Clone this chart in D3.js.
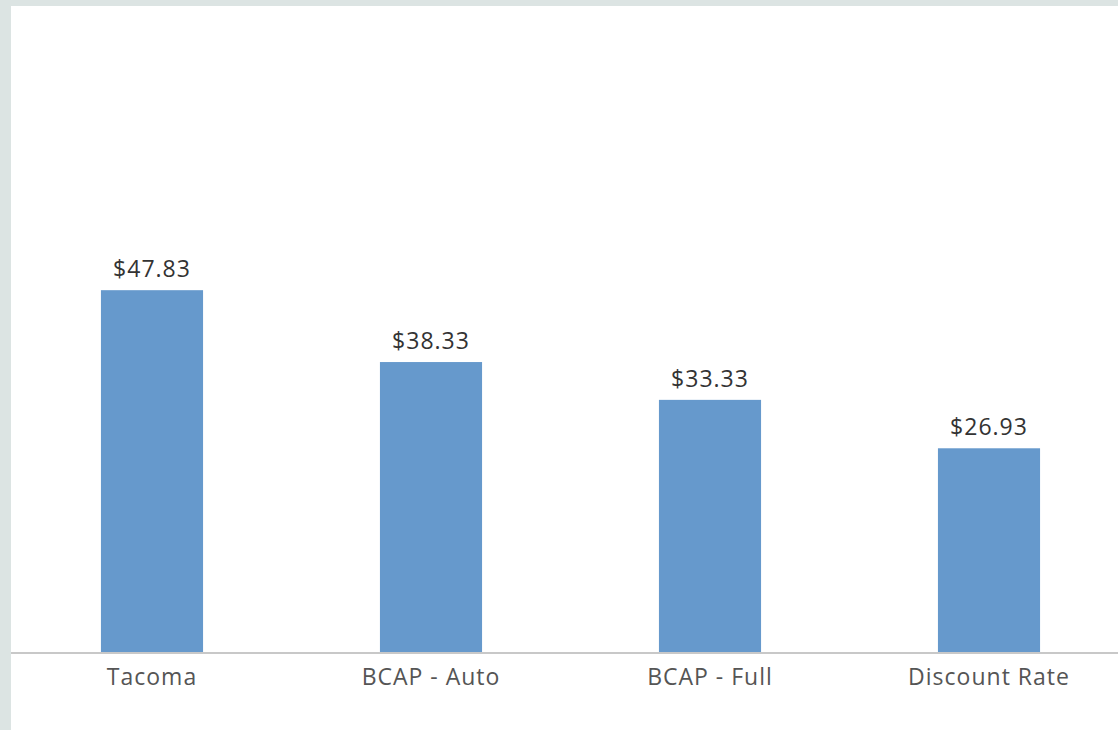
<!DOCTYPE html>
<html>
<head>
<meta charset="utf-8">
<script src="https://cdn.jsdelivr.net/npm/d3@7"></script>
<style>
  html, body { margin: 0; padding: 0; background: #dce4e3; }
  svg { display: block; }
</style>
</head>
<body>
<script>
// Chart data
var categories = ["Tacoma", "BCAP - Auto", "BCAP - Full", "Discount Rate"];
var values = [47.83, 38.33, 33.33, 26.93];

var width = 1118;
var height = 730;

var svg = d3.select("body")
    .append("svg")
    .attr("width", width)
    .attr("height", height);

// white panel with the grey frame on top and left
svg.append("rect")
    .attr("x", 11)
    .attr("y", 6)
    .attr("width", width - 11)
    .attr("height", height - 6)
    .attr("fill", "white");

var x = d3.scaleBand()
    .domain(categories)
    .range([12.5, 1128.5])
    .paddingInner(0.634)
    .paddingOuter(0.317);

var y = d3.scaleLinear()
    .domain([0, 85])
    .range([652, 9]);

// Bars
svg.selectAll("rect.bar")
    .data(values)
    .enter()
    .append("rect")
    .attr("class", "bar")
    .attr("x", (d, i) => x(categories[i]))
    .attr("y", (d) => y(d))
    .attr("width", x.bandwidth())
    .attr("height", (d) => y(0) - y(d))
    .attr("fill", "#6699cc");

// Value labels above bars
svg.selectAll("text.val")
    .data(values)
    .enter()
    .append("text")
    .attr("class", "val")
    .text((d) => "$" + d.toFixed(2))
    .attr("x", (d, i) => x(categories[i]) + x.bandwidth() / 2)
    .attr("y", (d) => y(d) - 13)
    .attr("text-anchor", "middle")
    .attr("font-family", "Open Sans")
    .attr("font-size", "23px")
    .attr("letter-spacing", "1px")
    .attr("fill", "#333");

// Baseline
svg.append("line")
    .attr("x1", 11)
    .attr("x2", width)
    .attr("y1", y(0) + 1)
    .attr("y2", y(0) + 1)
    .attr("stroke", "#c8c8c8")
    .attr("stroke-width", 2);

// Category axis
var axis = svg.append("g")
    .attr("transform", "translate(0," + (y(0) + 2) + ")")
    .call(d3.axisBottom(x).tickSize(0).tickPadding(15));

axis.select(".domain").remove();
axis.selectAll("text")
    .attr("font-family", "Open Sans")
    .attr("font-size", "23px")
    .attr("letter-spacing", "1px")
    .attr("fill", "#555");
</script>
</body>
</html>
